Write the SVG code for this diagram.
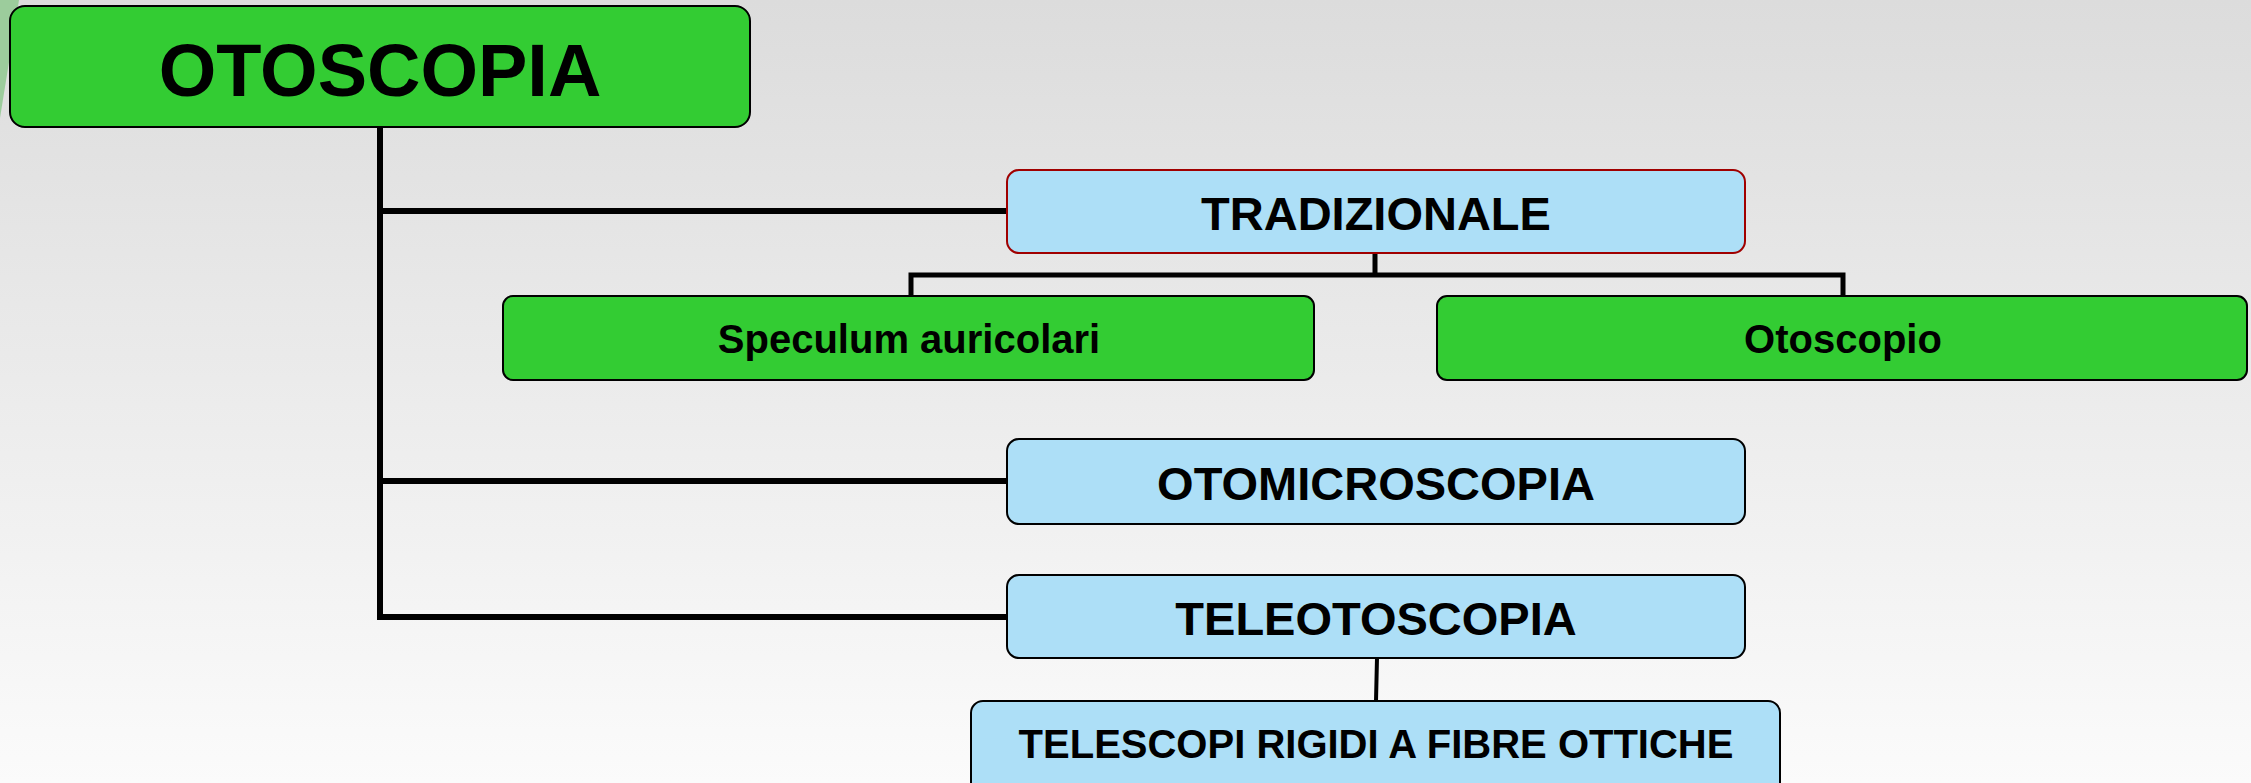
<svg xmlns="http://www.w3.org/2000/svg" width="2251" height="783" viewBox="0 0 2251 783">
  <defs>
    <linearGradient id="bg" x1="0" y1="0" x2="0" y2="1">
      <stop offset="0" stop-color="#dcdcdc"/>
      <stop offset="1" stop-color="#fbfbfb"/>
    </linearGradient>
    <style>
      .green { fill: #33cc33; stroke: #000; stroke-width: 2; }
      .blue { fill: #addff7; stroke: #000; stroke-width: 2; }
      .bluered { fill: #addff7; stroke: #a00000; stroke-width: 2; }
      .t { font-family: "Liberation Sans", Arial, sans-serif; font-weight: bold; fill: #000; text-anchor: middle; }
      .conn { fill: none; stroke: #000; stroke-linecap: square; stroke-linejoin: miter; }
    </style>
  </defs>
  <rect x="0" y="0" width="2251" height="783" fill="url(#bg)"/>
  <polygon points="0,0 19,0 0,118" fill="#9ccc9c"/>

  <g id="connectors">
    <path class="conn" stroke-width="6" d="M380,127 V617 H1007 M380,211 H1007 M380,481 H1007"/>
    <path class="conn" stroke-width="5" d="M1375,253 V275 M911,296 V275 H1843 V296"/>
    <path class="conn" stroke-width="4" d="M1377,658 L1376,701"/>
  </g>

  <g id="otoscopia">
    <rect class="green" x="10" y="6" width="740" height="121" rx="15"/>
    <text class="t" x="380" y="96" font-size="74">OTOSCOPIA</text>
  </g>
  <g id="tradizionale">
    <rect class="bluered" x="1007" y="170" width="738" height="83" rx="12"/>
    <text class="t" x="1376" y="230" font-size="47">TRADIZIONALE</text>
  </g>
  <g id="speculum">
    <rect class="green" x="503" y="296" width="811" height="84" rx="10"/>
    <text class="t" x="909" y="353" font-size="40">Speculum auricolari</text>
  </g>
  <g id="otoscopio">
    <rect class="green" x="1437" y="296" width="810" height="84" rx="10"/>
    <text class="t" x="1843" y="353" font-size="40">Otoscopio</text>
  </g>
  <g id="otomicroscopia">
    <rect class="blue" x="1007" y="439" width="738" height="85" rx="12"/>
    <text class="t" x="1376" y="500" font-size="47">OTOMICROSCOPIA</text>
  </g>
  <g id="teleotoscopia">
    <rect class="blue" x="1007" y="575" width="738" height="83" rx="12"/>
    <text class="t" x="1376" y="635" font-size="47">TELEOTOSCOPIA</text>
  </g>
  <g id="telescopi">
    <rect class="blue" x="971" y="701" width="809" height="95" rx="12"/>
    <text class="t" x="1376" y="758" font-size="40">TELESCOPI RIGIDI A FIBRE OTTICHE</text>
  </g>
</svg>
